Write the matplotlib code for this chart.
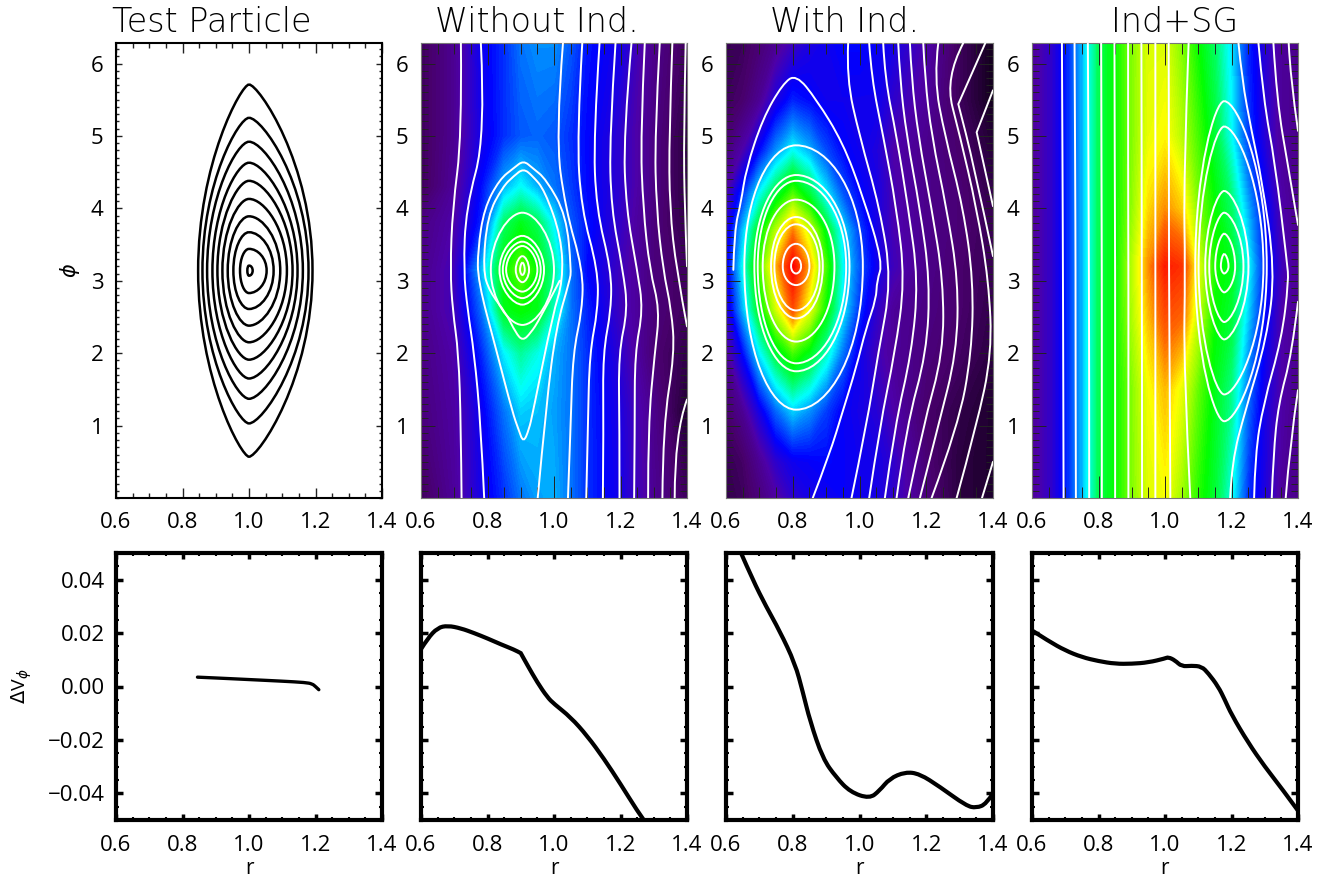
#!/usr/bin/env python3
"""Four-column phase-space maps with velocity-difference profiles below."""

import numpy as np
import matplotlib
matplotlib.use("Agg")
import matplotlib.pyplot as plt
from matplotlib.colors import LinearSegmentedColormap
from matplotlib.patches import PathPatch
from matplotlib.path import Path
from matplotlib.ticker import FixedLocator, MultipleLocator

plt.rcParams["font.family"] = ["Open Sans", "DejaVu Sans"]
plt.rcParams["mathtext.fontset"] = "dejavusans"

W, H = 1327, 883
COLS = [(116, 382), (421, 687), (726, 993), (1032, 1298)]
TITLES = ["Test Particle", "Without Ind.", "With Ind.", "Ind+SG"]
TOP_Y = (43, 498)
BOT_Y = (553, 820)
TITLE_X = [212, 537, 845, 1175]

R_TICKS = [0.6, 0.8, 1.0, 1.2, 1.4]
R_LABELS = ["0.6", "0.8", "1.0", "1.2", "1.4"]
PHI_TICKS = [1, 2, 3, 4, 5, 6]
DV_TICKS = [-0.04, -0.02, 0.0, 0.02, 0.04]
DV_LABELS = ["\u22120.04", "\u22120.02", "0.00", "0.02", "0.04"]

# test particle lenses: phi top, phi bottom, r left, r right
TP_TOP = [5.71, 5.25, 4.92, 4.63, 4.38, 4.13, 3.89, 3.67, 3.44, 3.21]
TP_BOT = [0.57, 1.03, 1.37, 1.65, 1.91, 2.15, 2.38, 2.61, 2.83, 3.07]
TP_LEFT = [.847, .86, .874, .89, .905, .92, .936, .953, .973, .995]
TP_RIGHT = [1.191, 1.179, 1.162, 1.146, 1.131, 1.114, 1.094, 1.074, 1.053, 1.011]
TP_TIP = [.15, .22, .28, .32, .36, .40, .44, .48, .50, .55]

# colour fields, value 0-1 on the colour bar
P2_R = [.6, .7, .78, .85, .9, .95, 1.0, 1.05, 1.1, 1.2, 1.3, 1.4]
P2_PHI = [0, 1.2, 2.0, 2.6, 3.15, 3.8, 4.3, 5.0, 6.283]
P2_Z = [
    [.10, .18, .27, .33, .38, .41, .42, .38, .33, .27, .17, .10],
    [.14, .19, .28, .38, .44, .43, .41, .38, .33, .26, .16, .05],
    [.15, .20, .32, .46, .52, .48, .42, .38, .33, .24, .13, .08],
    [.16, .22, .37, .60, .62, .60, .50, .38, .32, .22, .14, .10],
    [.16, .22, .42, .62, .68, .62, .52, .38, .30, .22, .14, .10],
    [.15, .20, .32, .55, .60, .56, .46, .36, .31, .23, .14, .08],
    [.10, .18, .30, .42, .47, .42, .38, .34, .30, .24, .15, .07],
    [.10, .17, .27, .33, .36, .37, .36, .33, .30, .24, .15, .07],
    [.10, .17, .28, .33, .38, .40, .40, .36, .31, .27, .16, .10],
]

P3_R = [.6, .65, .7, .75, .8, .85, .9, .95, 1.0, 1.05, 1.1, 1.2, 1.3, 1.4]
P3_PHI = [0, .5, 1.2, 2.0, 2.6, 3.2, 3.7, 4.2, 4.8, 5.5, 6.283]
P3_Z = [
    [.08, .10, .14, .19, .24, .27, .28, .29, .28, .27, .24, .14, .07, .05],
    [.09, .11, .17, .24, .28, .29, .30, .29, .28, .27, .24, .13, .07, .05],
    [.12, .17, .27, .37, .44, .40, .34, .29, .27, .25, .20, .12, .08, .05],
    [.18, .30, .46, .58, .66, .60, .50, .38, .28, .22, .18, .14, .11, .07],
    [.24, .42, .60, .76, .92, .78, .62, .46, .33, .24, .18, .15, .12, .08],
    [.27, .47, .66, .85, 1.0, .85, .66, .47, .36, .28, .22, .16, .12, .09],
    [.25, .43, .60, .74, .88, .76, .60, .45, .34, .27, .21, .16, .13, .09],
    [.20, .33, .47, .58, .67, .58, .46, .36, .30, .27, .21, .16, .13, .08],
    [.14, .20, .30, .40, .47, .42, .35, .30, .28, .26, .20, .16, .12, .06],
    [.10, .12, .17, .26, .32, .30, .28, .28, .28, .28, .24, .18, .10, .03],
    [.09, .10, .13, .17, .22, .26, .28, .30, .30, .29, .27, .20, .10, .03],
]

P4_R = [.6, .66, .7, .75, .8, .85, .9, .95, 1.0, 1.05, 1.1, 1.15, 1.2, 1.25, 1.3, 1.35, 1.4]
P4_PHI = [0, 1.5, 2.5, 3.2, 4.0, 5.0, 6.283]
P4_Z = [
    [.18, .24, .31, .42, .56, .62, .70, .77, .79, .72, .64, .58, .48, .33, .26, .18, .16],
    [.18, .24, .31, .42, .56, .62, .70, .79, .84, .78, .68, .60, .53, .38, .27, .20, .16],
    [.18, .24, .31, .42, .56, .62, .73, .84, .92, .90, .75, .62, .58, .44, .30, .20, .17],
    [.18, .24, .31, .42, .56, .62, .74, .87, .97, .95, .78, .63, .60, .47, .32, .22, .17],
    [.18, .24, .31, .42, .56, .62, .71, .82, .87, .83, .70, .62, .55, .42, .30, .20, .16],
    [.18, .24, .31, .42, .56, .62, .70, .78, .80, .74, .66, .58, .47, .34, .25, .18, .16],
    [.18, .24, .31, .42, .56, .62, .70, .77, .77, .70, .62, .55, .45, .32, .25, .18, .16],
]

# white streamlines, r read at shared phi levels
P2_LEVELS = [6.283, 5.0, 4.0, 3.15, 2.6, 2.0, 1.0, 0.0]
P2_LINES = [
    [.72, .723, .695, .688, .695, .713, .72, .722],
    [.78, .794, .735, .728, .74, .76, .78, .79],
    [1.027, 1.005, 1.034, 1.087, 1.085, 1.057, 1.05, 1.042],
    [1.085, 1.069, 1.082, 1.132, 1.132, 1.107, 1.102, 1.097],
    [1.137, 1.119, 1.127, 1.172, 1.172, 1.147, 1.149, 1.147],
    [1.185, 1.167, 1.172, 1.207, 1.222, 1.194, 1.197, 1.197],
    [1.233, 1.209, 1.217, 1.25, 1.268, 1.243, 1.243, 1.241],
    [1.273, 1.26, 1.268, 1.288, 1.318, 1.303, 1.283, 1.283],
    [1.318, 1.303, 1.308, 1.328, 1.353, 1.363, 1.328, 1.326],
]
P2_PIECES = [
    ([1.356, 1.346, 1.348, 1.368, 1.4], [6.283, 5.0, 4.0, 3.15, 2.37]),
    ([1.396, 1.39, 1.393, 1.4], [6.283, 5.0, 4.0, 3.2]),
    ([1.4, 1.363, 1.363], [1.36, .9, 0.0]),
    ([.951, .977, 1.007, 1.047, 1.052, 1.037, .977, .935, .908, .88, .836, .79, .771, .771, .826, .876,
      .893, .908, .925, .936, .997, 1.027, 1.022, .972, .935, .908, .88, .846, .80, .786, .806, .856, .885, .906, .93, .956, 1.017],
     [0.0, 1.31, 2.37, 3.0, 3.15, 3.9, 4.4, 4.56, 4.66, 4.56, 4.4, 4.0, 3.43, 3.0, 2.05, 1.17,
      .95, .76, .95, 1.17, 2.55, 3.0, 3.6, 4.25, 4.45, 4.55, 4.45, 4.3, 3.9, 3.15, 2.85, 2.55, 2.28, 2.17, 2.28, 2.46, 3.0]),
]
P2_EYE_TOP = [3.94, 3.62, 3.54, 3.48, 3.34, 3.25]
P2_EYE_BOT = [2.39, 2.67, 2.76, 2.85, 2.98, 3.08]
P2_EYE_L = [.81, .836, .846, .856, .885, .898]
P2_EYE_R = [1.0, .97, .96, .95, .925, .912]

P3_LEVELS = [6.283, 5.8, 5.0, 4.0, 3.0, 2.0, 1.0, 0.0]
P3_LINES = [
    [.966, .961, 1.0, 1.061, 1.096, 1.056, 1.021, .976],
    [1.029, 1.036, 1.071, 1.111, 1.136, 1.106, 1.061, 1.029],
    [1.071, 1.076, 1.111, 1.146, 1.176, 1.156, 1.106, 1.076],
    [1.116, 1.121, 1.141, 1.181, 1.211, 1.201, 1.141, 1.111],
    [1.151, 1.156, 1.176, 1.216, 1.251, 1.251, 1.191, 1.146],
    [1.191, 1.196, 1.216, 1.261, 1.296, 1.291, 1.236, 1.181],
    [1.236, 1.223, 1.256, 1.311, 1.341, 1.336, 1.296, 1.216],
    [1.311, 1.256, 1.301, 1.351, 1.387, 1.397, 1.351, 1.291],
]
P3_PIECES = [
    ([1.377, 1.296, 1.296, 1.341, 1.4], [6.283, 5.44, 5.44, 4.63, 3.34]),
    ([1.4, 1.351, 1.351, 1.4], [5.63, 5.05, 5.05, 4.03]),
    ([1.4, 1.367], [.5, 0.0]),
    # outer contour, from the bottom edge over the top to the left end
    ([.86, .91, .95, .99, 1.02, 1.05, 1.052, 1.07, 1.01, .95, .87, .81, .77, .71, .66, .645, .625, .622],
     [0.0, .6, 1.2, 1.8, 2.35, 2.75, 3.0, 3.25, 4.17, 4.91, 5.51, 5.85, 5.72, 5.24, 4.54, 4.08, 3.7, 3.15]),
]
P3_EYE_TOP = [4.87, 4.46, 4.38, 4.12, 3.88, 3.78, 3.51, 3.32]
P3_EYE_BOT = [1.22, 1.75, 1.86, 2.16, 2.48, 2.59, 2.94, 3.1]
P3_EYE_L = [.655, .685, .695, .71, .735, .745, .77, .795]
P3_EYE_R = [1.01, .97, .96, .925, .89, .88, .85, .825]

P4_UPRIGHT_PHI = [6.283, 4.4, 3.15, 1.8, 0.0]
P4_UPRIGHT = [
    [.69, .692, .693, .694, .695],
    [.728, .73, .731, .731, .732],
    [.768, .77, .771, .772, .772],
    [.808, .809, .81, .81, .81],
    [.848, .849, .85, .85, .85],
    [.889, .889, .89, .89, .89],
    [.929, .93, .93, .931, .931],
    [.971, .971, .971, .971, .971],
    [1.011, 1.012, 1.012, 1.014, 1.016],
    [1.071, 1.056, 1.061, 1.056, 1.076],
]
P4_PIECES = [
    ([1.221, 1.231, 1.261, 1.291, 1.331, 1.306, 1.241, 1.201, 1.196],
     [6.283, 5.79, 5.05, 4.4, 3.15, 2.2, 1.2, .5, 0.0]),
    ([1.281, 1.296, 1.331, 1.367, 1.372, 1.351, 1.296, 1.271, 1.268],
     [6.283, 5.5, 4.63, 3.25, 3.0, 2.2, 1.3, .6, 0.0]),
    ([1.326, 1.336, 1.372, 1.4], [6.283, 5.5, 4.53, 3.77]),
    ([1.372, 1.377, 1.4], [6.283, 5.8, 5.07]),
    ([1.4, 1.382, 1.341, 1.326, 1.321], [2.71, 2.0, 1.3, .6, 0.0]),
    ([1.4, 1.376, 1.363], [1.49, .75, 0.0]),
]
P4_EYE_TOP = [5.48, 5.13, 4.24, 3.94, 3.65, 3.37]
P4_EYE_BOT = [1.06, 1.43, 2.19, 2.43, 2.84, 3.1]
P4_EYE_L = [1.091, 1.101, 1.121, 1.133, 1.151, 1.168]
P4_EYE_R = [1.306, 1.296, 1.251, 1.236, 1.211, 1.191]

# velocity difference profiles
DV1_R = [.845, .9, 1.0, 1.1, 1.17, 1.19, 1.2, 1.21]
DV1 = [.0035, .0032, .0026, .002, .0015, .001, .0, -.0012]
DV2_R = [.6, .62, .65, .68, .72, .76, .8, .84, .88, .9, .9, .92, .95, .98, 1.0, 1.05, 1.1, 1.15, 1.2, 1.25, 1.27]
DV2 = [.014, .018, .022, .0228, .0218, .020, .018, .0158, .0138, .0125, .0125, .008, .0015, -.004,
       -.0065, -.0115, -.0185, -.027, -.0365, -.0465, -.05]
DV3_R = [.645, .68, .72, .76, .807, .83, .852, .89, .93, .972, 1.03, 1.06, 1.09, 1.137, 1.18, 1.24, 1.32, 1.35, 1.38, 1.4]
DV3 = [.05, .04, .03, .021, .0086, -.002, -.013, -.027, -.034, -.0395, -.042, -.039, -.0345,
       -.032, -.0327, -.0375, -.0447, -.0455, -.044, -.04]
DV4_R = [.6, .65, .7, .75, .8, .85, .9, .95, 1.0, 1.01, 1.03, 1.05, 1.08, 1.11, 1.13, 1.16, 1.18, 1.2, 1.25, 1.3, 1.35, 1.4]
DV4 = [.021, .017, .0135, .011, .0095, .0085, .0085, .009, .0105, .011, .0098, .0075, .0078,
       .0075, .005, .0, -.005, -.0105, -.021, -.03, -.038, -.0465]

RAINBOW = LinearSegmentedColormap.from_list("idl_rainbow", [
    (0.00, (0.00, 0.00, 0.00)),
    (0.12, (0.28, 0.00, 0.42)),
    (0.20, (0.30, 0.00, 0.66)),
    (0.30, (0.00, 0.00, 1.00)),
    (0.40, (0.00, 0.55, 1.00)),
    (0.47, (0.00, 1.00, 1.00)),
    (0.55, (0.00, 1.00, 0.40)),
    (0.62, (0.00, 1.00, 0.00)),
    (0.72, (0.60, 1.00, 0.00)),
    (0.80, (1.00, 1.00, 0.00)),
    (0.90, (1.00, 0.40, 0.00)),
    (1.00, (1.00, 0.00, 0.00)),
])


def add_axes(fig, xpx, ypx):
    return fig.add_axes([xpx[0] / W, 1 - ypx[1] / H, (xpx[1] - xpx[0]) / W, (ypx[1] - ypx[0]) / H])


def smooth_line(ax, r, phi, color="white", lw=1.4):
    # quadratic spline with the read points as control points
    pts = list(zip(r, phi))
    verts = [pts[0]]
    codes = [Path.MOVETO]
    for i in range(1, len(pts) - 1):
        end = pts[-1] if i == len(pts) - 2 else ((pts[i][0] + pts[i + 1][0]) / 2, (pts[i][1] + pts[i + 1][1]) / 2)
        verts += [pts[i], end]
        codes += [Path.CURVE3, Path.CURVE3]
    if len(pts) == 2:
        verts.append(pts[1])
        codes.append(Path.LINETO)
    ax.add_patch(PathPatch(Path(verts, codes), fill=False, edgecolor=color, linewidth=lw, zorder=3,
                           capstyle="round"))


def lens(ax, rc, top, bot, left, right, color="white", lw=1.4, mid=None, k=0.3, q=0.55):
    c = (top + bot) / 2 if mid is None else mid
    verts = [
        (rc, top),
        (rc + k * (right - rc), top), (right, c + q * (top - c)), (right, c),
        (right, c - q * (c - bot)), (rc + k * (right - rc), bot), (rc, bot),
        (rc - k * (rc - left), bot), (left, c - q * (c - bot)), (left, c),
        (left, c + q * (top - c)), (rc - k * (rc - left), top), (rc, top),
    ]
    codes = [Path.MOVETO] + [Path.CURVE4] * 12
    ax.add_patch(PathPatch(Path(verts, codes), fill=False, edgecolor=color, linewidth=lw, zorder=3))


def style_top(ax, idx):
    ax.set_xlim(0.6, 1.4)
    ax.set_ylim(0, 2 * np.pi)
    ax.xaxis.set_major_locator(FixedLocator(R_TICKS))
    ax.set_xticklabels(R_LABELS)
    ax.xaxis.set_minor_locator(MultipleLocator(0.05))
    ax.yaxis.set_major_locator(FixedLocator(PHI_TICKS))
    ax.set_yticklabels([str(v) for v in PHI_TICKS])
    ax.yaxis.set_minor_locator(MultipleLocator(0.1))
    if idx == 0:
        xmaj, xmin, ymaj, ymin, width, edge = 7, 3.5, 4, 2, 1.0, "black"
    else:
        xmaj, xmin, ymaj, ymin, width, edge = 16, 8, 10, 5, 0.7, "#777777"
    ax.tick_params(axis="x", which="major", direction="in", top=True, length=xmaj, width=width,
                   labelsize=16, pad=10, color="#222222")
    ax.tick_params(axis="x", which="minor", direction="in", top=True, length=xmin, width=width, color="#222222")
    ax.tick_params(axis="y", which="major", direction="in", right=True, length=ymaj, width=width,
                   labelsize=16, pad=9, color="#222222")
    ax.tick_params(axis="y", which="minor", direction="in", right=True, length=ymin, width=width, color="#222222")
    for s in ax.spines.values():
        s.set_color(edge)
        s.set_linewidth(1.5 if idx == 0 else 0.8)


def style_bottom(ax, idx):
    ax.set_xlim(0.6, 1.4)
    ax.set_ylim(-0.05, 0.05)
    ax.xaxis.set_major_locator(FixedLocator(R_TICKS))
    ax.set_xticklabels(R_LABELS)
    ax.xaxis.set_minor_locator(MultipleLocator(0.05))
    ax.yaxis.set_major_locator(FixedLocator(DV_TICKS))
    ax.set_yticklabels(DV_LABELS if idx == 0 else [])
    ax.yaxis.set_minor_locator(MultipleLocator(0.005))
    ax.tick_params(axis="x", which="major", direction="in", top=True, length=4, width=2.5, labelsize=16, pad=11)
    ax.tick_params(axis="x", which="minor", direction="in", top=True, length=2, width=1.5)
    ax.tick_params(axis="y", which="major", direction="in", right=True, length=5, width=2.5, labelsize=16, pad=8)
    ax.tick_params(axis="y", which="minor", direction="in", right=True, length=2, width=1.5)
    for s in ax.spines.values():
        s.set_linewidth(3)
    ax.set_xlabel("r", fontsize=15, labelpad=1)


def field(ax, r, phi, z):
    ax.contourf(r, phi, np.array(z), levels=np.linspace(0, 1, 129), cmap=RAINBOW,
                vmin=0, vmax=1, extend="both", zorder=1)


def main():
    fig = plt.figure(figsize=(W / 100, H / 100), dpi=100)
    for i, xpx in enumerate(COLS):
        fig.text(TITLE_X[i] / W, 1 - 23 / H, TITLES[i], ha="center", va="center", fontsize=24,
                 fontweight="light", family="DejaVu Sans")

    tops = [add_axes(fig, xpx, TOP_Y) for xpx in COLS]
    bots = [add_axes(fig, xpx, BOT_Y) for xpx in COLS]

    for top, bot, left, right, tip in zip(TP_TOP, TP_BOT, TP_LEFT, TP_RIGHT, TP_TIP):
        lens(tops[0], 1.0, top, bot, left, right, color="black", lw=1.8, mid=3.14, k=tip, q=0.58)
    tops[0].set_ylabel(r"$\phi$", fontsize=15, labelpad=6)

    field(tops[1], P2_R, P2_PHI, P2_Z)
    for line in P2_LINES:
        smooth_line(tops[1], line, P2_LEVELS)
    for r, phi in P2_PIECES:
        smooth_line(tops[1], r, phi)
    for top, bot, left, right in zip(P2_EYE_TOP, P2_EYE_BOT, P2_EYE_L, P2_EYE_R):
        lens(tops[1], .905, top, bot, left, right, mid=3.15, k=0.42, q=0.55)

    field(tops[2], P3_R, P3_PHI, P3_Z)
    for line in P3_LINES:
        smooth_line(tops[2], line, P3_LEVELS)
    for r, phi in P3_PIECES:
        smooth_line(tops[2], r, phi)
    for top, bot, left, right in zip(P3_EYE_TOP, P3_EYE_BOT, P3_EYE_L, P3_EYE_R):
        lens(tops[2], .81, top, bot, left, right, mid=3.2, k=0.5, q=0.6)

    field(tops[3], P4_R, P4_PHI, P4_Z)
    for line in P4_UPRIGHT:
        smooth_line(tops[3], line, P4_UPRIGHT_PHI)
    for r, phi in P4_PIECES:
        smooth_line(tops[3], r, phi)
    for top, bot, left, right in zip(P4_EYE_TOP, P4_EYE_BOT, P4_EYE_L, P4_EYE_R):
        lens(tops[3], 1.178, top, bot, left, right, mid=3.2, k=0.32, q=0.58)

    for i, ax in enumerate(tops):
        style_top(ax, i)

    profiles = [(DV1_R, DV1), (DV2_R, DV2), (DV3_R, DV3), (DV4_R, DV4)]
    for i, (ax, (r, dv)) in enumerate(zip(bots, profiles)):
        smooth_line(ax, r, dv, color="black", lw=3 if i else 2.4)
        style_bottom(ax, i)
    bots[0].set_ylabel(r"$\Delta$V$_{\phi}$", fontsize=14, labelpad=10)

    fig.savefig("out.png", dpi=100, facecolor="white")
    plt.close(fig)


if __name__ == "__main__":
    main()
